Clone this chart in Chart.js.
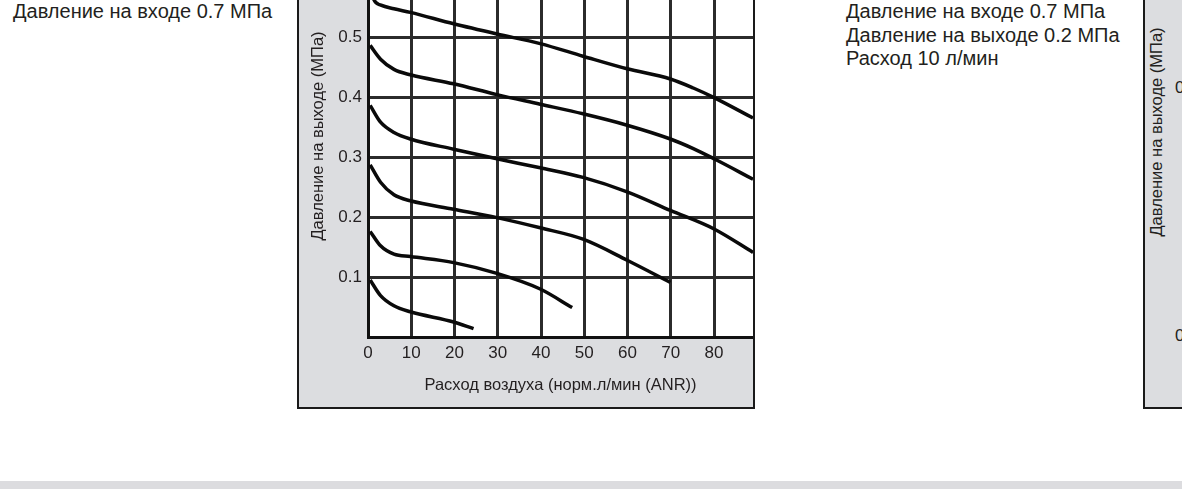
<!DOCTYPE html>
<html>
<head>
<meta charset="utf-8">
<script src="https://cdn.jsdelivr.net/npm/chart.js@4.4.0/dist/chart.umd.min.js"></script>
<style>
  html, body { margin: 0; padding: 0; background: #fff; overflow: hidden; width: 1182px; height: 489px; }
  body { position: relative; font-family: "Liberation Sans", Arial, sans-serif; color: #231f20; }
  .note { position: absolute; font-size: 20px; line-height: 23.5px; white-space: nowrap; }
  .box { position: absolute; background: #dcdde0; border: 2px solid #1a1a1a; box-sizing: border-box; }
  #chartWrap { position: absolute; left: 299px; top: -100px; width: 454px; height: 506px; }
  .rot { position: absolute; font-size: 16.5px; white-space: nowrap; transform: translate(-50%, -50%) rotate(-90deg); }
  .band { position: absolute; left: 0; top: 481px; width: 1182px; height: 8px; background: #dcdcdf; }
</style>
</head>
<body>
<div class="note" style="left:13px; top:0px;">Давление на входе 0.7 МПа</div>
<div class="note" style="left:846px; top:0px;">Давление на входе 0.7 МПа<br>Давление на выходе 0.2 МПа<br>Расход 10 л/мин</div>

<div class="box" style="left:297px; top:-10px; width:458px; height:419px;"></div>
<div id="chartWrap"><canvas id="flowChart"></canvas></div>

<!-- next chart, only its left edge is in view -->
<div class="box" style="left:1143px; top:-10px; width:100px; height:419px;"></div>
<div class="rot" style="left:1156px; top:132px;">Давление на выходе (МПа)</div>
<div class="note" style="left:1175px; top:76px; font-size:17px;">0.2</div>
<div class="note" style="left:1175px; top:324px; font-size:17px;">0.1</div>

<div class="band"></div>

<script>
// ===== DATA: outlet pressure vs air flow, one curve per set pressure =====
const flowTicks = [0, 10, 20, 30, 40, 50, 60, 70, 80];
const pressureTicks = [0.1, 0.2, 0.3, 0.4, 0.5, 0.6];

const curve1Flow = [0.5, 1.3, 3, 6, 9.8, 19.8, 29.8, 39.8, 49.7, 59.9, 69.9, 75.2, 80, 89];
const curve1Pres = [0.59, 0.563, 0.553, 0.547, 0.541, 0.522, 0.505, 0.489, 0.468, 0.447, 0.43, 0.415, 0.399, 0.365];

const curve2Flow = [0.5, 2.9, 6, 9.8, 19.8, 29.8, 39.8, 49.7, 59.9, 69.9, 75.2, 80, 89];
const curve2Pres = [0.486, 0.463, 0.446, 0.437, 0.422, 0.404, 0.388, 0.372, 0.353, 0.33, 0.314, 0.297, 0.263];

const curve3Flow = [0.5, 2.9, 6, 9.8, 19.8, 29.8, 39.8, 49.7, 59.9, 69.9, 80, 89];
const curve3Pres = [0.386, 0.358, 0.341, 0.33, 0.313, 0.297, 0.282, 0.266, 0.242, 0.211, 0.18, 0.141];

const curve4Flow = [0.5, 2.9, 6, 9.8, 19.8, 29.8, 39.8, 49.7, 59.9, 69.9];
const curve4Pres = [0.287, 0.258, 0.237, 0.227, 0.213, 0.199, 0.182, 0.163, 0.128, 0.091];

const curve5Flow = [0.5, 2.9, 6, 9.8, 19.8, 29.8, 39.8, 47.2];
const curve5Pres = [0.176, 0.152, 0.138, 0.134, 0.124, 0.106, 0.08, 0.049];

const curve6Flow = [0.5, 2.9, 6, 9.8, 19.8, 24.4];
const curve6Pres = [0.095, 0.069, 0.052, 0.042, 0.025, 0.014];

const xTitle = 'Расход воздуха (норм.л/мин (ANR))';
const yTitle = 'Давление на выходе (МПа)';

// ===== BUILD DATASETS =====
const curves = [
  [curve1Flow, curve1Pres],
  [curve2Flow, curve2Pres],
  [curve3Flow, curve3Pres],
  [curve4Flow, curve4Pres],
  [curve5Flow, curve5Pres],
  [curve6Flow, curve6Pres]
];

const datasets = curves.map(([fx, py]) => ({
  data: fx.map((x, i) => ({ x, y: py[i] })),
  borderColor: '#0a0a0a',
  borderWidth: 3.5,
  pointRadius: 0,
  fill: false,
  cubicInterpolationMode: 'monotone'
}));

const isTenth = v => Math.abs(v * 10 - Math.round(v * 10)) < 1e-6;
const textFont = '"Liberation Sans", Arial, sans-serif';

// white plot area on the grey panel
const plotBg = {
  id: 'plotBg',
  beforeDraw(chart) {
    const { ctx, chartArea: a } = chart;
    ctx.save();
    ctx.fillStyle = '#ffffff';
    ctx.fillRect(a.left, a.top, a.right - a.left, a.bottom - a.top);
    ctx.restore();
  }
};

new Chart(document.getElementById('flowChart'), {
  type: 'line',
  data: { datasets },
  plugins: [plotBg],
  options: {
    responsive: true,
    maintainAspectRatio: false,
    animation: false,
    layout: { padding: { top: 35, right: 0, left: 0, bottom: 0 } },
    plugins: { legend: { display: false }, tooltip: { enabled: false } },
    scales: {
      x: {
        type: 'linear',
        min: 0,
        max: 89,
        afterBuildTicks: s => { s.ticks = flowTicks.map(v => ({ value: v })); },
        afterFit: s => { s.height = 69; },
        ticks: { color: '#231f20', padding: 6, font: { family: textFont, size: 17 } },
        grid: { color: '#2b2b2b', lineWidth: 3, drawTicks: false },
        border: { color: '#111', width: 3 },
        title: { display: true, text: xTitle, color: '#231f20', padding: { top: 0, bottom: 11 }, font: { family: textFont, size: 16.5 } }
      },
      y: {
        type: 'linear',
        min: 0,
        max: 0.67,
        afterBuildTicks: s => { s.ticks = [0].concat(pressureTicks).map(v => ({ value: v })); },
        afterFit: s => { s.width = 69; },
        ticks: {
          color: '#231f20',
          padding: 6,
          font: { family: textFont, size: 17 },
          callback: v => (v === 0 ? '' : (isTenth(v) ? v.toFixed(1) : ''))
        },
        grid: { color: '#2b2b2b', lineWidth: 3, drawTicks: false },
        border: { color: '#111', width: 3 },
        title: { display: true, text: yTitle, color: '#231f20', padding: { top: 10 }, font: { family: textFont, size: 16.5 } }
      }
    }
  }
});
</script>
</body>
</html>
